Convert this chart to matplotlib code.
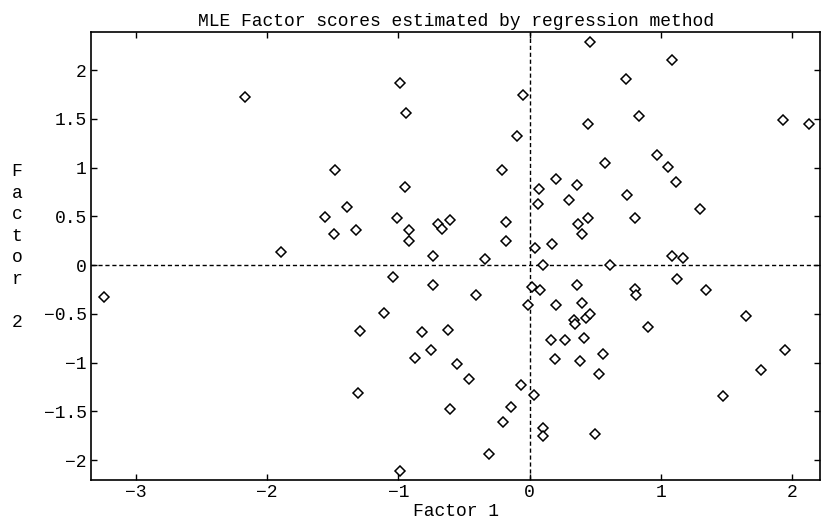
import matplotlib
matplotlib.use("Agg")
import matplotlib.pyplot as plt

# factor scores
factor1 = [
    -3.24, -2.17, -1.89, -1.56, -1.48, -1.49, -1.39, -1.32, -1.04, -1.11,
    -1.29, -1.31, -0.99, -0.99, -0.94, -0.95, -1.01, -0.92, -0.92, -0.87,
    -0.82, -0.74, -0.75, -0.70, -0.67, -0.61, -0.74, -0.62, -0.55, -0.46,
    -0.41, -0.61, -0.34, -0.31, -0.20, -0.14, -0.07, -0.18, -0.18, -0.21,
    -0.10, -0.05, -0.01,
    0.015, 0.08, 0.03, 0.10, 0.10, 0.04, 0.06, 0.07, 0.20, 0.17,
    0.10, 0.61, 0.30, 0.36, 0.37, 0.40, 0.44, 0.44, 0.46, 0.57,
    0.73, 0.74, 0.80, 0.83, 0.97, 1.05, 1.08, 1.11, 1.30, 1.08,
    1.17, 1.93, 2.13, 0.20, 0.16, 0.19, 0.27, 0.36, 0.40, 0.34,
    0.345, 0.43, 0.46, 0.41, 0.38, 0.56, 0.53, 0.50, 0.80, 0.81,
    0.90, 1.12, 1.34, 1.65, 1.94, 1.76, 1.47,
]
factor2 = [
    -0.33, 1.72, 0.13, 0.49, 0.97, 0.32, 0.59, 0.36, -0.12, -0.49,
    -0.68, -1.31, -2.11, 1.87, 1.56, 0.80, 0.48, 0.36, 0.25, -0.95,
    -0.69, -0.20, -0.87, 0.42, 0.37, 0.46, 0.09, -0.67, -1.02, -1.17,
    -0.31, -1.48, 0.06, -1.94, -1.61, -1.46, -1.23, 0.44, 0.25, 0.97,
    1.32, 1.74, -0.41,
    -0.23, -0.26, -1.33, -1.67, -1.75, 0.17, 0.63, 0.78, 0.88, 0.22,
    0.00, 0.00, 0.67, 0.82, 0.42, 0.32, 0.48, 1.45, 2.29, 1.05,
    1.91, 0.72, 0.48, 1.53, 1.13, 1.01, 2.10, 0.85, 0.57, 0.09,
    0.07, 1.49, 1.45, -0.41, -0.77, -0.96, -0.77, -0.20, -0.39, -0.56,
    -0.60, -0.54, -0.50, -0.75, -0.98, -0.91, -1.12, -1.73, -0.25, -0.31,
    -0.64, -0.14, -0.26, -0.52, -0.87, -1.08, -1.34,
]

xticks = [-3, -2, -1, 0, 1, 2]
yticks = [-2, -1.5, -1, -0.5, 0, 0.5, 1, 1.5, 2]

font = "Liberation Mono"
fs = 13

def lab(v):
    return f"{v:g}".replace("-", "\u2212")

fig = plt.figure(figsize=(8.21, 5.2), dpi=100)
ax = fig.add_axes([91 / 821, 40 / 520, 729 / 821, 448 / 520])

ax.axhline(0, color="black", lw=1, ls=(0, (3, 2)), zorder=1)
ax.axvline(0, color="black", lw=1, ls=(0, (3, 2)), zorder=1)
ax.plot(factor1, factor2, ls="none", marker="D", ms=4.8, mfc="white",
        mec="black", mew=1.1, zorder=2)

ax.set_xlim(-3.34, 2.21)
ax.set_ylim(-2.205, 2.39)
ax.set_xticks(xticks)
ax.set_xticklabels([lab(v) for v in xticks], fontfamily=font, fontsize=fs)
ax.set_yticks(yticks)
ax.set_yticklabels([lab(v) for v in yticks], fontfamily=font, fontsize=fs)
ax.tick_params(direction="in", length=4, width=1, top=True, right=True,
               color="black", pad=3)
for s in ax.spines.values():
    s.set_linewidth(1.2)

ax.set_title("MLE Factor scores estimated by regression method",
             fontfamily=font, fontsize=fs, pad=4)
ax.set_xlabel("Factor 1", fontfamily=font, fontsize=fs, labelpad=1)
fig.text(17 / 821, 1 - 247 / 520, "\n".join("Factor 2"), fontfamily=font,
         fontsize=fs, ha="center", va="center", linespacing=1.35)

fig.savefig("out.png", dpi=100, facecolor="white")
